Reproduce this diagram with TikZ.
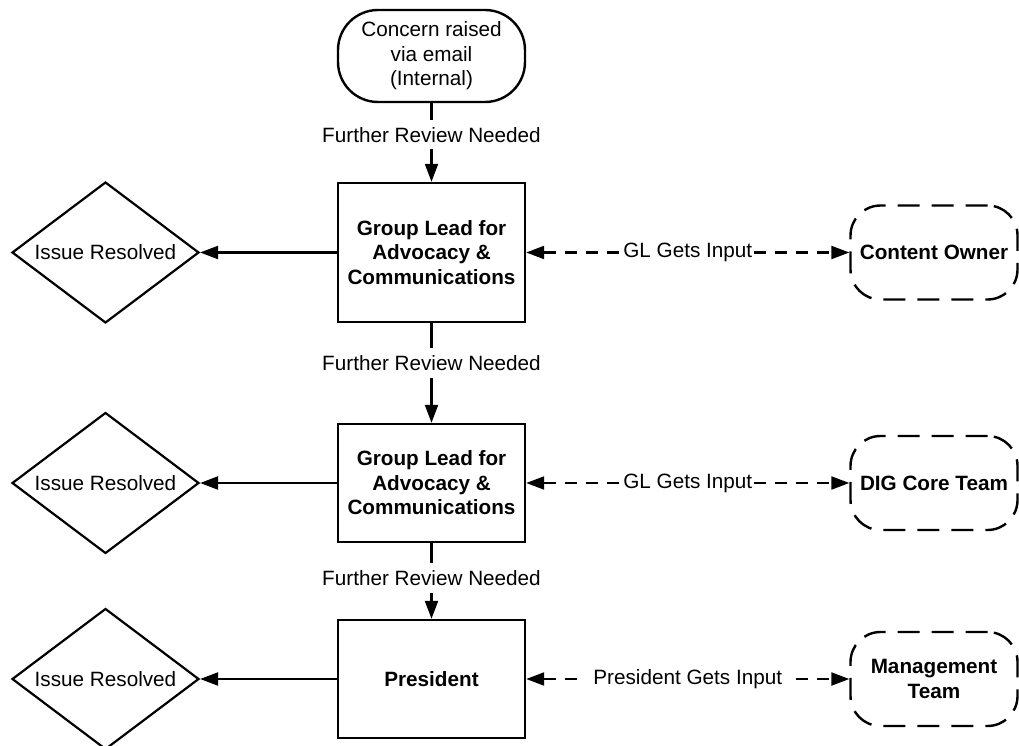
\documentclass[tikz,border=0pt]{standalone}
\usepackage{fontspec}
\setmainfont{Liberation Sans}
\usetikzlibrary{arrows.meta,shapes.geometric}
\begin{document}
\begin{tikzpicture}[x=1pt,y=-1pt,
  font=\fontsize{20.7}{24.5}\selectfont,
  every node/.style={align=center},
  terminal/.style={draw, line width=2.4pt, rounded corners=40pt, minimum width=187pt, minimum height=92pt, inner sep=0pt},
  procbox/.style={draw, line width=2.4pt, minimum width=187pt, inner sep=0pt, font=\fontsize{20.7}{24.5}\selectfont\bfseries},
  resolved/.style={draw, diamond, aspect=1.33, line width=2.2pt, minimum width=187pt, minimum height=141pt, inner sep=0pt},
  party/.style={draw, dash pattern=on 22pt off 12pt, line width=2.4pt, rounded corners=30pt, minimum width=167pt, minimum height=94pt, inner sep=0pt, font=\fontsize{20.7}{24.5}\selectfont\bfseries},
  flow/.style={line width=2.2pt, -{Triangle[length=18pt,width=13pt]}},
  consult/.style={line width=2.2pt, dash pattern=on 12pt off 9pt, {Triangle[length=18pt,width=13pt]}-{Triangle[length=18pt,width=13pt]}},
  flowlabel/.style={fill=white, inner sep=7pt},
  consultlabel/.style={fill=white, inner xsep=2pt, inner ysep=5pt}
]
\useasboundingbox[fill=white] (0,0) rectangle (1019,746);

\node[terminal] (start) at (431.5,56) {Concern raised\\via email\\(Internal)};
\node[procbox, minimum height=139pt] (gl1) at (431.5,252.5) {Group Lead for\\Advocacy \&\\Communications};
\node[procbox, minimum height=118pt] (gl2) at (431.5,483) {Group Lead for\\Advocacy \&\\Communications};
\node[procbox, minimum height=118pt] (pres) at (431.5,679) {President};

\node[resolved] (r1) at (105.5,252.5) {Issue Resolved};
\node[resolved] (r2) at (105.5,483) {Issue Resolved};
\node[resolved] (r3) at (105.5,679) {Issue Resolved};

\node[party] (co) at (934,252.5) {Content Owner};
\node[party] (dig) at (934,483) {DIG Core Team};
\node[party] (mt) at (934,679) {Management\\Team};

\draw[flow] (start.south) -- node[flowlabel,pos=0.4]{Further Review Needed} (gl1.north);
\draw[flow] (gl1.south) -- node[flowlabel,pos=0.4]{Further Review Needed} (gl2.north);
\draw[flow] (gl2.south) -- node[flowlabel,pos=0.46]{Further Review Needed} (pres.north);

\draw[flow] (gl1.west) -- (r1.east);
\draw[flow] (gl2.west) -- (r2.east);
\draw[flow] (pres.west) -- (r3.east);

\draw[consult] (gl1.east) -- node[consultlabel]{GL Gets Input} (co.west);
\draw[consult] (gl2.east) -- node[consultlabel]{GL Gets Input} (dig.west);
\draw[consult] (pres.east) -- node[consultlabel, inner xsep=9pt]{President Gets Input} (mt.west);
\end{tikzpicture}
\end{document}
